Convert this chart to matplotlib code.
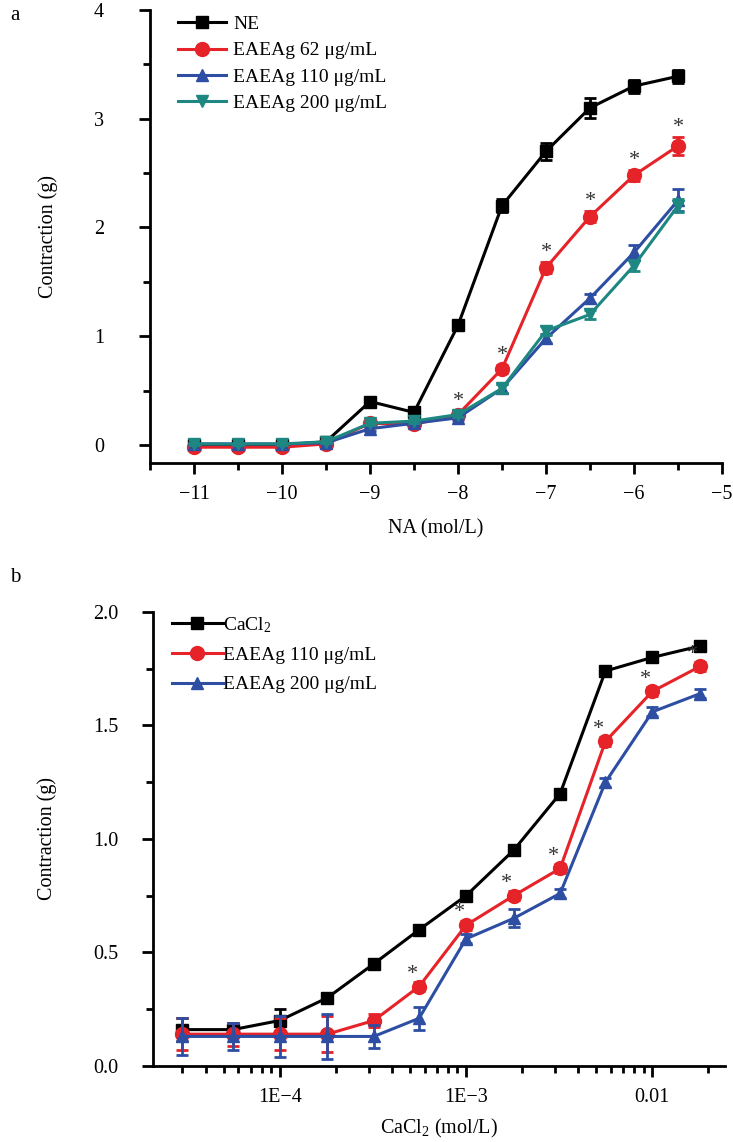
import matplotlib
matplotlib.use("Agg")
import matplotlib.pyplot as plt
from matplotlib.ticker import MultipleLocator, FixedLocator, LogLocator, NullFormatter

plt.rcParams['font.family'] = ['Liberation Serif', 'DejaVu Serif']
plt.rcParams['mathtext.fontset'] = 'custom'
plt.rcParams['mathtext.rm'] = 'Liberation Serif'
plt.rcParams['mathtext.default'] = 'regular'
plt.rcParams['font.size'] = 14

# panel a data: NA concentration (log mol/L)
na_x = [-11, -10.5, -10, -9.5, -9, -8.5, -8, -7.5, -7, -6.5, -6, -5.5]
ne_y = [0, 0, 0, 0.03, 0.40, 0.30, 1.10, 2.20, 2.70, 3.10, 3.30, 3.39]
ne_err = [0.01, 0.01, 0.01, 0.01, 0.02, 0.02, 0.03, 0.06, 0.08, 0.09, 0.06, 0.06]
e62_y = [-0.02, -0.02, -0.02, 0.01, 0.20, 0.19, 0.28, 0.70, 1.63, 2.10, 2.48, 2.75]
e62_err = [0.01, 0.01, 0.01, 0.01, 0.02, 0.02, 0.03, 0.04, 0.05, 0.05, 0.05, 0.08]
e110_y = [0.01, 0.01, 0.01, 0.02, 0.15, 0.20, 0.25, 0.52, 0.98, 1.35, 1.77, 2.25]
e110_err = [0.01, 0.01, 0.01, 0.01, 0.02, 0.02, 0.02, 0.04, 0.04, 0.04, 0.07, 0.10]
e200_y = [0.01, 0.01, 0.01, 0.03, 0.20, 0.22, 0.28, 0.52, 1.05, 1.20, 1.65, 2.20]
e200_err = [0.01, 0.01, 0.01, 0.01, 0.02, 0.02, 0.02, 0.04, 0.04, 0.04, 0.05, 0.06]
star_a = [False, False, False, False, False, False, True, True, True, True, True, True]

# panel b data: CaCl2 concentration (mol/L)
ca_x = [3e-5, 5.6e-5, 1e-4, 1.8e-4, 3.2e-4, 5.6e-4, 1e-3, 1.8e-3, 3.2e-3, 5.6e-3, 1e-2, 1.8e-2]
ca_y = [0.16, 0.16, 0.20, 0.30, 0.45, 0.60, 0.75, 0.95, 1.20, 1.74, 1.80, 1.85]
ca_err = [0.05, 0.03, 0.05, 0.02, 0.02, 0.02, 0.02, 0.02, 0.02, 0.02, 0.02, 0.02]
b110_y = [0.14, 0.14, 0.14, 0.14, 0.20, 0.35, 0.62, 0.75, 0.87, 1.43, 1.65, 1.76]
b110_err = [0.07, 0.05, 0.07, 0.08, 0.03, 0.02, 0.02, 0.02, 0.02, 0.02, 0.02, 0.02]
b200_y = [0.13, 0.13, 0.13, 0.13, 0.13, 0.21, 0.56, 0.65, 0.76, 1.25, 1.56, 1.64]
b200_err = [0.08, 0.06, 0.09, 0.10, 0.05, 0.05, 0.02, 0.04, 0.02, 0.02, 0.02, 0.02]
star_b = [False, False, False, False, False, True, True, True, True, True, True, True]

black = '#000000'
red = '#E52328'
blue = '#2D4EA2'
teal = '#1E8782'

fig = plt.figure(figsize=(7.33, 11.42), dpi=100)
ax1 = fig.add_axes([0.2046, 0.5946, 0.7804, 0.3967])
ax2 = fig.add_axes([0.2087, 0.0666, 0.7804, 0.3975])


def style(ax, ypad):
    for s in ['top', 'right']:
        ax.spines[s].set_visible(False)
    for s in ['left', 'bottom']:
        ax.spines[s].set_linewidth(2)
    ax.tick_params(which='major', direction='out', length=8, width=2, labelsize=14.5)
    ax.tick_params(which='minor', direction='out', length=5, width=2)
    ax.tick_params(axis='y', pad=ypad)
    ax.tick_params(axis='x', which='major', pad=8)


def series(ax, x, y, err, color, marker, ms, label):
    # error bars first, then the line so the legend shows line + marker only
    ax.errorbar(x, y, yerr=err, fmt='none', ecolor=color, elinewidth=2,
                capsize=4, capthick=2)
    ax.plot(x, y, color=color, marker=marker, markersize=ms, linewidth=2.2, label=label)


# ---- panel a ----
series(ax1, na_x, ne_y, ne_err, black, 's', 9, 'NE')
series(ax1, na_x, e62_y, e62_err, red, 'o', 10, 'EAEAg 62 μg/mL')
series(ax1, na_x, e110_y, e110_err, blue, '^', 9, 'EAEAg 110 μg/mL')
series(ax1, na_x, e200_y, e200_err, teal, 'v', 9, 'EAEAg 200 μg/mL')
for xi, yi, ei, s in zip(na_x, e62_y, e62_err, star_a):
    if s:
        ax1.annotate('*', (xi, yi + ei), xytext=(0, 0), textcoords='offset points',
                     ha='center', va='bottom', fontsize=16, color='#333333')

ax1.set_xlim(-11.5, -5)
ax1.set_ylim(-0.165, 4)
ax1.xaxis.set_major_locator(MultipleLocator(1))
ax1.xaxis.set_minor_locator(MultipleLocator(0.5))
ax1.yaxis.set_major_locator(MultipleLocator(1))
ax1.yaxis.set_minor_locator(MultipleLocator(0.5))
style(ax1, 25)
ax1.set_xlabel('NA (mol/L)', fontsize=14.5, labelpad=11)
ax1.set_ylabel('Contraction (g)', fontsize=14.5, labelpad=26)
ax1.legend(loc='upper left', bbox_to_anchor=(0.035, 1.005), frameon=False,
           fontsize=14, handlelength=2.5, handletextpad=0.35, labelspacing=0.45,
           borderaxespad=0)

# ---- panel b ----
series(ax2, ca_x, ca_y, ca_err, black, 's', 9, 'CaCl$_2$')
series(ax2, ca_x, b110_y, b110_err, red, 'o', 10, 'EAEAg 110 μg/mL')
series(ax2, ca_x, b200_y, b200_err, blue, '^', 9, 'EAEAg 200 μg/mL')
for xi, yi, ei, s in zip(ca_x, b110_y, b110_err, star_b):
    if s:
        ax2.annotate('*', (xi, yi), xytext=(-5, 2), textcoords='offset points',
                     ha='center', va='bottom', fontsize=16, color='#333333')

ax2.set_xscale('log')
ax2.set_xlim(10 ** -4.68, 10 ** -1.61)
ax2.set_ylim(0, 2.0)
ax2.xaxis.set_major_locator(FixedLocator([1e-4, 1e-3, 1e-2]))
ax2.set_xticklabels(['1E−4', '1E−3', '0.01'])
ax2.xaxis.set_minor_locator(LogLocator(base=10, subs=range(2, 10)))
ax2.xaxis.set_minor_formatter(NullFormatter())
ax2.yaxis.set_major_locator(MultipleLocator(0.5))
ax2.yaxis.set_minor_locator(MultipleLocator(0.25))
ax2.yaxis.set_major_formatter(plt.FormatStrFormatter('%.1f'))
style(ax2, 17)
ax2.set_xlabel('CaCl$_2$ (mol/L)', fontsize=14.5, labelpad=7)
ax2.set_ylabel('Contraction (g)', fontsize=14.5, labelpad=26)
ax2.legend(loc='upper left', bbox_to_anchor=(0.02, 1.01), frameon=False,
           fontsize=14, handlelength=2.6, handletextpad=0.0, labelspacing=0.6,
           borderaxespad=0)

fig.text(10 / 733, 1 - 15 / 1142, 'a', fontsize=15, va='center')
fig.text(10 / 733, 1 - 577 / 1142, 'b', fontsize=15, va='center')

plt.savefig('out.png', dpi=100)
